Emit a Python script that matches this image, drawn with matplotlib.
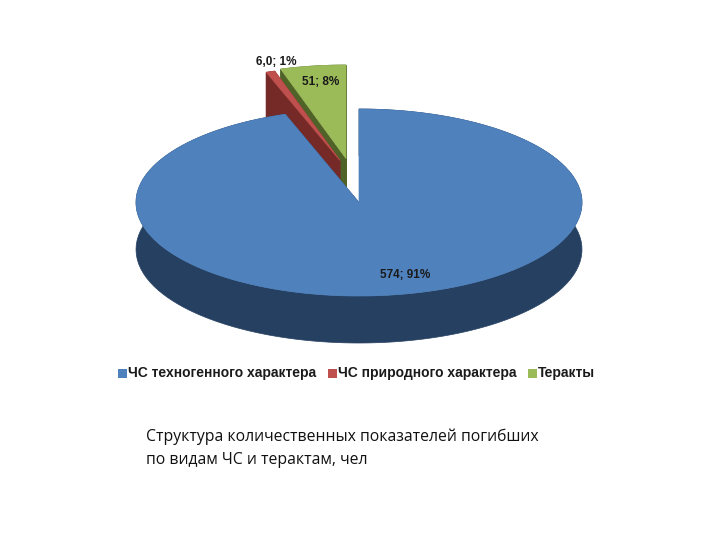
import matplotlib

matplotlib.use("Agg")
import matplotlib.pyplot as plt
import numpy as np
from matplotlib.patches import Polygon, Rectangle

categories = ["ЧС техногенного характера", "ЧС природного характера", "Теракты"]
values = [574, 6.0, 51]
data_labels = ["574; 91%", "6,0; 1%", "51; 8%"]
caption = ["Структура количественных показателей погибших",
           "по видам ЧС и терактам, чел"]

top_colors = ["#4F81BD", "#C0504D", "#9BBB59"]
side_colors = ["#254061", "#752A28", "#4F6228"]

# pie geometry, in pixels of the 720x540 picture
CX, CY = 359, 202.5
RX, RY = 223, 93.5
DEPTH = 47
SQUEEZE = 0.55  # the 3D view foreshortens angles around the back of the pie
offsets = [(0, 0), (-19, -42), (-13, -44)]
label_pos = [(405, 275), (276, 62), (321, 82)]


def rim(start, end, dx=0, dy=0):
    # points of the pie edge between two fractions of the full circle
    theta = np.linspace(start, end, 200) * 2 * np.pi
    phi = np.arctan2(SQUEEZE * np.sin(theta), np.cos(theta))
    return np.column_stack([CX + dx + RX * np.sin(phi), CY + dy - RY * np.cos(phi)])


def draw_slice(ax, start, end, offset, top, side):
    dx, dy = offset
    apex = np.array([[CX + dx, CY + dy]])
    edge = rim(start, end, dx, dy)
    drop = np.array([0, DEPTH])
    # outer wall
    ax.add_patch(Polygon(np.vstack([edge, (edge + drop)[::-1]]), fc=side, ec=side, lw=0.5))
    # the two cut faces
    for point in (edge[0], edge[-1]):
        face = np.vstack([apex, [point], [point + drop], apex + drop])
        ax.add_patch(Polygon(face, fc=side, ec=side, lw=0.5))
    ax.add_patch(Polygon(np.vstack([apex, edge]), fc=top, ec=top, lw=0.5))


def main():
    plt.rcParams["font.family"] = ["Liberation Sans", "DejaVu Sans"]
    fig = plt.figure(figsize=(7.2, 5.4), dpi=100)
    ax = fig.add_axes([0, 0, 1, 1])
    ax.set_xlim(0, 720)
    ax.set_ylim(540, 0)
    ax.axis("off")

    fracs = np.array(values) / sum(values)
    bounds = np.concatenate([[0], np.cumsum(fracs)])

    # back slices first, the big one covers them
    for i in [2, 1, 0]:
        draw_slice(ax, bounds[i], bounds[i + 1], offsets[i], top_colors[i], side_colors[i])

    for text, (x, y) in zip(data_labels, label_pos):
        ax.text(x, y, text, ha="center", va="center", fontsize=8.5, fontweight="bold",
                color="#1a1a1a")

    # legend
    legend_x = [118, 328, 528]
    for name, color, x in zip(categories, top_colors, legend_x):
        ax.add_patch(Rectangle((x, 369), 9, 9, fc=color, ec="none"))
        ax.text(x + 10, 373.5, name, ha="left", va="center", fontsize=10, fontweight="bold",
                color="#1a1a1a")

    for line, y in zip(caption, [437, 460]):
        ax.text(146, y, line, ha="left", va="center", fontsize=11.35, family="Open Sans",
                color="#111111")

    fig.savefig("out.png", dpi=100)
    plt.close(fig)


if __name__ == "__main__":
    main()
